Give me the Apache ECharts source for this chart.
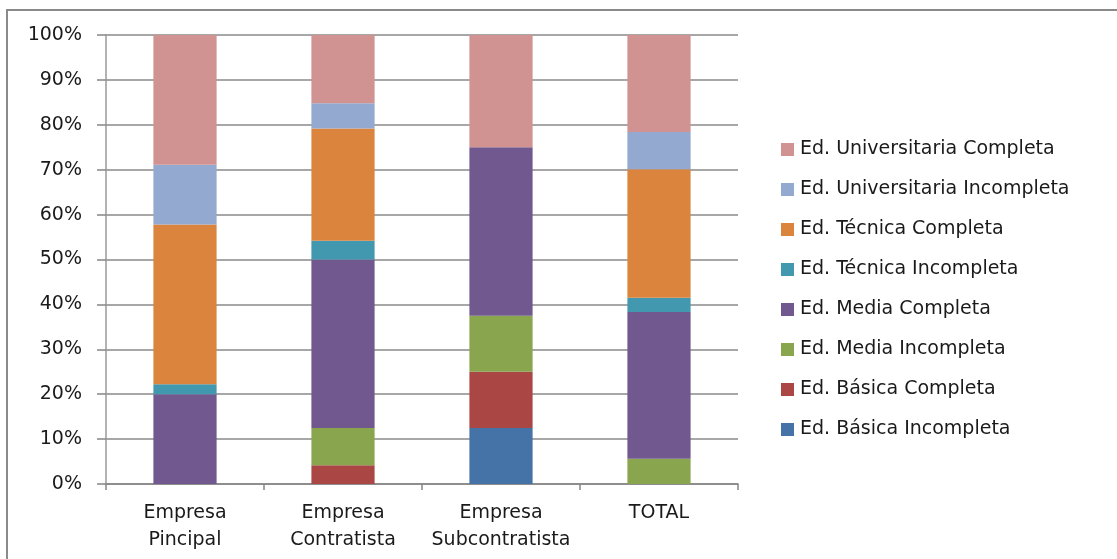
<!DOCTYPE html>
<html><head><meta charset="utf-8">
<script src="https://cdn.jsdelivr.net/npm/echarts@6/dist/echarts.min.js"></script>
<style>html,body{margin:0;padding:0;background:#fff}#c{width:1117px;height:559px}</style>
</head><body><div id="c"></div>
<script>
const categories = ['Empresa\nPincipal', 'Empresa\nContratista', 'Empresa\nSubcontratista', 'TOTAL'];
const yTicks = [0,10,20,30,40,50,60,70,80,90,100];
const basicaIncompleta = [0, 0, 12.5, 0];
const basicaCompleta = [0, 4.2, 12.5, 0];
const mediaIncompleta = [0, 8.3, 12.5, 5.6];
const mediaCompleta = [20.0, 37.5, 37.5, 32.7];
const tecnicaIncompleta = [2.2, 4.2, 0, 3.2];
const tecnicaCompleta = [35.6, 25.0, 0, 28.6];
const univIncompleta = [13.3, 5.6, 0, 8.3];
const univCompleta = [28.9, 15.2, 25.0, 21.6];

const seriesDefs = [
  ['Ed. Básica Incompleta', basicaIncompleta, '#4572A7'],
  ['Ed. Básica Completa', basicaCompleta, '#AA4643'],
  ['Ed. Media Incompleta', mediaIncompleta, '#89A54E'],
  ['Ed. Media Completa', mediaCompleta, '#71588F'],
  ['Ed. Técnica Incompleta', tecnicaIncompleta, '#4198AF'],
  ['Ed. Técnica Completa', tecnicaCompleta, '#DB843D'],
  ['Ed. Universitaria Incompleta', univIncompleta, '#93A9CF'],
  ['Ed. Universitaria Completa', univCompleta, '#D19392']
];
const font = 'DejaVu Sans';
const fs = 19;
const chart = echarts.init(document.getElementById('c'), null, {renderer: 'canvas'});
chart.setOption({
  animation: false,
  graphic: [{type: 'rect', shape: {x: 7, y: 10, width: 1130, height: 570},
    style: {fill: 'none', stroke: '#8a8a8a', lineWidth: 2}, z: -1}],
  grid: {left: 106, top: 35, width: 632, height: 449, containLabel: false},
  legend: {
    orient: 'vertical', left: 776, top: 135, itemGap: 21, itemWidth: 13, itemHeight: 13,
    icon: 'rect', selectedMode: false,
    data: seriesDefs.map(s => s[0]).reverse(),
    textStyle: {fontFamily: font, fontSize: fs, color: '#1a1a1a', padding: [0, 0, 0, 1]}
  },
  xAxis: {
    type: 'category', data: categories,
    axisLine: {lineStyle: {color: '#868686', width: 1.5}},
    axisTick: {show: true, length: 6, lineStyle: {color: '#868686', width: 1.5}},
    axisLabel: {fontFamily: font, fontSize: fs, color: '#1a1a1a', lineHeight: 27, margin: 16, interval: 0}
  },
  yAxis: {
    type: 'value', min: 0, max: 100, interval: 10,
    axisLine: {show: true, lineStyle: {color: '#9a9a9a', width: 1.5}},
    axisTick: {show: true, length: 9, lineStyle: {color: '#868686', width: 1.5}},
    splitLine: {lineStyle: {color: '#8a8a8a', width: 1.5}},
    axisLabel: {fontFamily: font, fontSize: fs, color: '#1a1a1a', margin: 24,
      formatter: v => yTicks.includes(v) ? v + '%' : ''}
  },
  series: seriesDefs.map(s => ({
    name: s[0], type: 'bar', stack: 'total', data: s[1], barWidth: '40%',
    itemStyle: {color: s[2]}
  }))
});
</script></body></html>
